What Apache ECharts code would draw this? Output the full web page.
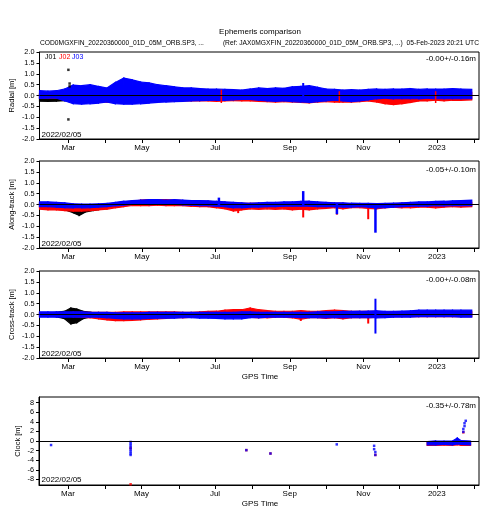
<!DOCTYPE html>
<html><head><meta charset="utf-8">
<script src="https://cdn.jsdelivr.net/npm/echarts@6/dist/echarts.min.js"></script>
<style>html,body{margin:0;padding:0;background:#fff}#c{width:490px;height:520px}</style>
</head><body><div id="c"></div>
<script>
// ---------- data ----------
const weekDates = ['2022-02-05','2022-02-12','2022-02-19','2022-02-26','2022-03-05','2022-03-12','2022-03-19','2022-03-26',
 '2022-04-02','2022-04-09','2022-04-16','2022-04-23','2022-04-30','2022-05-07','2022-05-14','2022-05-21','2022-05-28',
 '2022-06-04','2022-06-11','2022-06-18','2022-06-25','2022-07-02','2022-07-09','2022-07-16','2022-07-23','2022-07-30',
 '2022-08-06','2022-08-13','2022-08-20','2022-08-27','2022-09-03','2022-09-10','2022-09-17','2022-09-24',
 '2022-10-01','2022-10-08','2022-10-15','2022-10-22','2022-10-29','2022-11-05','2022-11-12','2022-11-19','2022-11-26',
 '2022-12-03','2022-12-10','2022-12-17','2022-12-24','2022-12-31','2023-01-07','2023-01-14','2023-01-21','2023-01-30'];

const radialJ03Hi = [0.22,0.2,0.22,0.3, 0.48,0.45,0.5,0.42, 0.35,0.6,0.8,0.72,0.62, 0.58,0.5,0.45,0.4, 0.35,0.35,0.32,0.3, 0.3,0.28,0.27,0.25,0.3, 0.35,0.32,0.35,0.33, 0.4,0.42,0.45,0.38, 0.3,0.28,0.25,0.27,0.25, 0.28,0.3,0.28,0.3, 0.3,0.32,0.28,0.3,0.3, 0.3,0.32,0.3,0.28];
const radialJ03Lo = [-0.13,-0.12,-0.12,-0.25, -0.38,-0.4,-0.38,-0.35, -0.3,-0.38,-0.4,-0.4,-0.38, -0.35,-0.32,-0.3,-0.28, -0.27,-0.25,-0.24,-0.23, -0.22,-0.22,-0.2,-0.18,-0.18, -0.22,-0.25,-0.27,-0.25, -0.28,-0.3,-0.32,-0.28, -0.25,-0.22,-0.25,-0.28,-0.25, -0.2,-0.15,-0.12,-0.15, -0.15,-0.15,-0.15,-0.12,-0.15, -0.15,-0.15,-0.15,-0.15];
const radialJ02Hi = [0.1,0.1,0.1,0.15, 0.25,0.25,0.25,0.25, 0.2,0.35,0.45,0.45,0.4, 0.35,0.3,0.28,0.25, 0.22,0.2,0.2,0.2, 0.2,0.2,0.18,0.18,0.18, 0.2,0.2,0.22,0.2, 0.25,0.25,0.25,0.22, 0.2,0.18,0.18,0.18,0.18, 0.18,0.15,0.12,0.12, 0.12,0.12,0.12,0.15,0.15, 0.15,0.15,0.15,0.15];
const radialJ02Lo = [-0.12,-0.12,-0.12,-0.2, -0.3,-0.3,-0.3,-0.3, -0.3,-0.3,-0.32,-0.3,-0.3, -0.28,-0.28,-0.26,-0.25, -0.25,-0.25,-0.25,-0.25, -0.27,-0.25,-0.24,-0.25,-0.25, -0.27,-0.28,-0.3,-0.28, -0.3,-0.32,-0.34,-0.3, -0.28,-0.3,-0.3,-0.3,-0.28, -0.25,-0.3,-0.38,-0.42, -0.38,-0.32,-0.25,-0.25,-0.22, -0.25,-0.22,-0.22,-0.2];
const radialJ01Dates = ['2022-02-05','2022-02-12','2022-02-19','2022-02-26','2022-03-04'];
const radialJ01Lo = [-0.26,-0.27,-0.26,-0.24,-0.22];
const radialJ01Hi = [0.05,0.05,0.05,0.05,0.05];
const radialJ01Points = [['2022-03-01',1.18],['2022-03-01',-1.1],['2022-03-02',0.55],['2022-03-02',0.42]];
const radialJ03Spikes = [['2022-09-12',0.0,0.53]];
const radialJ02Spikes = [['2022-07-06',-0.3,0.22],['2022-10-12',-0.28,0.15],['2022-12-31',-0.3,0.15]];

const alongJ03Hi = [0.12,0.12,0.1,0.08, 0.03,0.02,0.02,0.03, 0.05,0.1,0.15,0.18,0.2, 0.22,0.22,0.2,0.22, 0.2,0.18,0.18,0.17, 0.15,0.12,0.1,0.08,0.06, 0.08,0.1,0.1,0.12, 0.12,0.14,0.15,0.12, 0.1,0.08,0.08,0.06,0.05, 0.05,0.04,0.05,0.06, 0.08,0.1,0.12,0.12,0.14, 0.15,0.17,0.18,0.2];
const alongJ03Lo = [-0.1,-0.1,-0.12,-0.14, -0.15,-0.15,-0.14,-0.12, -0.1,-0.06,-0.03,0.0,0.0, 0.0,0.02,0.0,0.0, -0.02,-0.03,-0.05,-0.05, -0.08,-0.1,-0.15,-0.15,-0.12, -0.12,-0.1,-0.1,-0.08, -0.08,-0.08,-0.08,-0.1, -0.1,-0.1,-0.12,-0.12,-0.1, -0.12,-0.15,-0.14,-0.12, -0.1,-0.08,-0.08,-0.08,-0.06, -0.06,-0.05,-0.05,-0.05];
const alongJ02Hi = [0.05,0.05,0.05,0.03, 0.0,0.0,0.0,0.0, 0.02,0.05,0.1,0.15,0.2, 0.22,0.22,0.22,0.2, 0.18,0.15,0.15,0.15, 0.12,0.1,0.05,0.05,0.05, 0.05,0.05,0.05,0.05, 0.05,0.08,0.08,0.05, 0.05,0.05,0.05,0.03,0.03, 0.03,0.02,0.02,0.03, 0.05,0.05,0.08,0.08,0.08, 0.1,0.1,0.1,0.1];
const alongJ02Lo = [-0.22,-0.25,-0.25,-0.28, -0.3,-0.3,-0.28,-0.25, -0.22,-0.15,-0.1,-0.05,-0.05, -0.05,-0.03,-0.05,-0.05, -0.05,-0.08,-0.1,-0.1, -0.15,-0.2,-0.3,-0.25,-0.2, -0.22,-0.2,-0.22,-0.2, -0.25,-0.22,-0.25,-0.2, -0.18,-0.15,-0.2,-0.15,-0.15, -0.18,-0.2,-0.15,-0.12, -0.15,-0.15,-0.12,-0.12,-0.15, -0.12,-0.1,-0.12,-0.1];
const alongJ01Dates = ['2022-02-05','2022-02-12','2022-02-19','2022-02-26','2022-03-05','2022-03-10','2022-03-15','2022-03-22','2022-03-28'];
const alongJ01Lo = [-0.12,-0.12,-0.15,-0.25,-0.38,-0.5,-0.35,-0.28,-0.22];
const alongJ01Hi = [0.08,0.08,0.05,0.02,-0.05,-0.1,-0.08,-0.05,-0.05];
const alongJ03Spikes = [['2022-07-04',0.0,0.27],['2022-09-12',0.0,0.57],['2022-10-10',-0.4,0.0],['2022-11-11',-1.25,-0.1]];
const alongJ02Spikes = [['2022-07-20',-0.35,0],['2022-09-12',-0.55,0],['2022-10-10',-0.42,0],['2022-11-05',-0.63,0]];

const crossJ03Hi = [0.12,0.12,0.12,0.12, 0.12,0.12,0.1,0.1, 0.1,0.08,0.08,0.08,0.08, 0.1,0.1,0.1,0.1, 0.1,0.1,0.1,0.1, 0.1,0.1,0.1,0.12,0.12, 0.1,0.1,0.1,0.1, 0.1,0.1,0.1,0.12, 0.12,0.12,0.14,0.14,0.15, 0.16,0.17,0.15,0.15, 0.16,0.17,0.2,0.2,0.2, 0.2,0.2,0.2,0.2];
const crossJ03Lo = [-0.12,-0.12,-0.12,-0.12, -0.12,-0.12,-0.12,-0.12, -0.15,-0.18,-0.2,-0.2,-0.2, -0.18,-0.17,-0.17,-0.17, -0.15,-0.15,-0.17,-0.17, -0.18,-0.2,-0.2,-0.2,-0.15, -0.15,-0.12,-0.12,-0.12, -0.12,-0.14,-0.14,-0.14, -0.15,-0.15,-0.15,-0.15,-0.15, -0.15,-0.15,-0.14,-0.12, -0.12,-0.12,-0.1,-0.1,-0.1, -0.1,-0.1,-0.12,-0.12];
const crossJ02Hi = [0.08,0.08,0.08,0.08, 0.1,0.1,0.1,0.1, 0.1,0.1,0.12,0.12,0.12, 0.12,0.12,0.12,0.12, 0.1,0.1,0.12,0.14, 0.15,0.2,0.22,0.22,0.3, 0.22,0.18,0.15,0.15, 0.15,0.18,0.15,0.15, 0.18,0.2,0.18,0.15,0.15, 0.15,0.15,0.12,0.12, 0.12,0.12,0.12,0.12,0.12, 0.12,0.12,0.12,0.12];
const crossJ02Lo = [-0.08,-0.08,-0.08,-0.08, -0.1,-0.12,-0.15,-0.2, -0.25,-0.28,-0.28,-0.27,-0.25, -0.22,-0.2,-0.18,-0.15, -0.15,-0.12,-0.12,-0.12, -0.12,-0.12,-0.12,-0.12,-0.12, -0.15,-0.15,-0.12,-0.12, -0.15,-0.22,-0.15,-0.15, -0.18,-0.15,-0.2,-0.15,-0.15, -0.15,-0.12,-0.12,-0.1, -0.1,-0.1,-0.1,-0.1,-0.1, -0.1,-0.1,-0.1,-0.1];
const crossJ01Dates = ['2022-02-05','2022-02-12','2022-02-19','2022-02-26','2022-03-03','2022-03-08','2022-03-13','2022-03-20'];
const crossJ01Lo = [-0.08,-0.08,-0.1,-0.2,-0.43,-0.38,-0.2,-0.1];
const crossJ01Hi = [0.08,0.08,0.1,0.15,0.3,0.25,0.15,0.1];
const crossJ03Spikes = [['2022-11-11',-0.83,0.68]];
const crossJ02Spikes = [['2022-11-05',-0.37,0],['2022-09-10',-0.25,0]];

const clockJ03Points = [['2022-02-15',-0.84],['2022-04-22',-0.2],['2022-04-22',-0.6],['2022-04-22',-1.0],['2022-04-22',-1.4],
 ['2022-04-22',-1.8],['2022-04-22',-2.2],['2022-04-22',-2.6],['2022-04-22',-2.9],['2022-07-27',-1.9],['2022-08-16',-2.6],
 ['2022-10-10',-0.7],['2022-11-10',-1.0],['2022-11-10',-1.7],['2022-11-11',-2.3],['2022-11-11',-2.9],
 ['2023-01-23',1.9],['2023-01-23',2.5],['2023-01-24',3.1],['2023-01-24',3.7],['2023-01-25',4.2]];
const clockJ02Points = [['2022-04-22',-9.0],['2022-04-22',-1.5],['2022-07-27',-1.9],['2022-08-16',-2.6],['2022-11-11',-2.9],['2023-01-23',1.8]];
const clockBandDates = ['2022-12-24','2022-12-31','2023-01-07','2023-01-14','2023-01-18','2023-01-21','2023-01-29'];
const clockJ03Lo = [-0.8,-0.8,-0.7,-0.8,-0.6,-0.7,-0.8];
const clockJ03Hi = [-0.1,0,0,0,0.6,0.1,0];
const clockJ02Lo = [-0.9,-0.9,-0.85,-0.9,-0.8,-0.9,-0.9];
const clockJ02Hi = [-0.2,-0.1,-0.1,-0.1,0.3,0,-0.1];

const xMin = '2022-02-05', xMax = '2023-02-05';
const monthTicks = ['2022-03-01','2022-04-01','2022-05-01','2022-06-01','2022-07-01','2022-08-01','2022-09-01','2022-10-01','2022-11-01','2022-12-01','2023-01-01','2023-02-01'];
const monthLabels = ['2022-03-01','2022-05-01','2022-07-01','2022-09-01','2022-11-01','2023-01-01'];
const monthNames = ['2023','Feb','Mar','Apr','May','Jun','Jul','Aug','Sep','Oct','Nov','Dec'];
const clockTicks = [-8,-6,-4,-2,0,2,4,6,8];
const panelNames = ['Radial [m]','Along-track [m]','Cross-track [m]','Clock [m]'];
const panelStats = ['-0.00+/-0.16m','-0.05+/-0.10m','-0.00+/-0.08m','-0.35+/-0.78m'];

// ---------- chart ----------
const FONT = 'Liberation Sans, Arial, Helvetica, sans-serif';
const ts = d => +new Date(d + 'T00:00:00Z');
const BLUE = '#0000ff', RED = '#ff0000', BLACK = '#000000';

function band(xi, dates, lo, hi, color, z) {
  const data = dates.map((d, i) => [ts(d), lo[i], hi[i]]);
  return {
    type: 'custom', xAxisIndex: xi, yAxisIndex: xi, data, z, silent: true, animation: false,
    encode: { x: 0, y: [1, 2] },
    renderItem(params, api) {
      const i = params.dataIndex;
      if (i >= data.length - 1) return null;
      const a = data[i], b = data[i + 1];
      const pts = [api.coord([a[0], a[2]]), api.coord([b[0], b[2]]), api.coord([b[0], b[1]]), api.coord([a[0], a[1]])];
      return { type: 'polygon', shape: { points: pts }, style: { fill: color, stroke: color, lineWidth: 1.2 } };
    }
  };
}
function spikes(xi, arr, color, w, z, zero) {
  const data = arr.map(s => [ts(s[0]), s[1], s[2]]);
  const s = {
    type: 'custom', xAxisIndex: xi, yAxisIndex: xi, data, z, silent: true, animation: false,
    encode: { x: 0, y: [1, 2] },
    renderItem(params, api) {
      const p1 = api.coord([api.value(0), api.value(2)]);
      const p2 = api.coord([api.value(0), api.value(1)]);
      return { type: 'rect', shape: { x: p1[0] - w / 2, y: p1[1] - 1, width: w, height: p2[1] - p1[1] + 2 }, style: { fill: color } };
    }
  };
  if (zero) s.markLine = zeroLine();
  return s;
}
function points(xi, arr, color, size, z, zero) {
  const s = {
    type: 'scatter', xAxisIndex: xi, yAxisIndex: xi, z, silent: true, animation: false,
    symbol: 'rect', symbolSize: size, itemStyle: { color },
    data: arr.map(p => [ts(p[0]), p[1]])
  };
  if (zero) s.markLine = zeroLine();
  return s;
}
function zeroLine() {
  return { silent: true, symbol: 'none', animation: false, label: { show: false },
    lineStyle: { color: '#000', width: 1, type: 'solid' }, data: [{ yAxis: 0 }] };
}

const grids = [
  { left: 39, width: 440, top: 52, height: 87 },
  { left: 39, width: 440, top: 161, height: 87 },
  { left: 39, width: 440, top: 271, height: 87 },
  { left: 39, width: 440, top: 397, height: 88 }
].map(g => Object.assign(g, { show: true, borderColor: '#000', borderWidth: 1, backgroundColor: 'transparent' }));

const xAxes = grids.map((g, i) => ({
  type: 'value', gridIndex: i, min: ts(xMin), max: ts(xMax), scale: true,
  axisLine: { show: true, onZero: false, lineStyle: { color: '#000', width: 1 } },
  axisTick: { show: true, length: 4, inside: false, customValues: monthTicks.map(ts), lineStyle: { color: '#000' } },
  axisLabel: { show: true, customValues: monthLabels.map(ts), fontSize: 8, fontFamily: FONT, color: '#000', margin: 5,
    formatter: v => monthNames[new Date(v).getUTCMonth()] },
  splitLine: { show: false }, minorTick: { show: false }
}));

const yAxes = grids.map((g, i) => {
  const clock = i === 3;
  const ax = {
    type: 'value', gridIndex: i,
    name: panelNames[i], nameLocation: 'middle', nameGap: clock ? 17 : 23.5, nameRotate: 90,
    nameMoveOverlap: false,
    nameTextStyle: { fontSize: 7.5, fontFamily: FONT, color: '#000' },
    axisLine: { show: true, onZero: false, lineStyle: { color: '#000' } },
    axisTick: { show: true, length: 3, inside: false, lineStyle: { color: '#000' } },
    axisLabel: { fontSize: 7.3, fontFamily: FONT, color: '#000', margin: 5 },
    splitLine: { show: false }
  };
  if (clock) {
    ax.min = -9.15; ax.max = 9.15;
    ax.axisTick.customValues = clockTicks;
    ax.axisLabel.customValues = clockTicks;
    ax.axisLabel.formatter = v => String(v);
  } else {
    ax.min = -2; ax.max = 2; ax.interval = 0.5;
    ax.axisLabel.formatter = v => v.toFixed(1);
  }
  return ax;
});

const series = [
  band(0, radialJ01Dates, radialJ01Lo, radialJ01Hi, BLACK, 1),
  band(0, weekDates, radialJ02Lo, radialJ02Hi, RED, 2),
  band(0, weekDates, radialJ03Lo, radialJ03Hi, BLUE, 3),
  points(0, radialJ01Points, BLACK, 2.5, 4),
  spikes(0, radialJ02Spikes, RED, 1.5, 4),
  spikes(0, radialJ03Spikes, BLUE, 2, 5, true),
  band(1, alongJ01Dates, alongJ01Lo, alongJ01Hi, BLACK, 1),
  band(1, weekDates, alongJ02Lo, alongJ02Hi, RED, 2),
  spikes(1, alongJ02Spikes, RED, 2, 2),
  band(1, weekDates, alongJ03Lo, alongJ03Hi, BLUE, 3),
  spikes(1, alongJ03Spikes, BLUE, 2.5, 5, true),
  band(2, crossJ01Dates, crossJ01Lo, crossJ01Hi, BLACK, 1),
  band(2, weekDates, crossJ02Lo, crossJ02Hi, RED, 2),
  spikes(2, crossJ02Spikes, RED, 2, 2),
  band(2, weekDates, crossJ03Lo, crossJ03Hi, BLUE, 3),
  spikes(2, crossJ03Spikes, BLUE, 2, 5, true),
  band(3, clockBandDates, clockJ02Lo, clockJ02Hi, RED, 2),
  band(3, clockBandDates, clockJ03Lo, clockJ03Hi, BLUE, 3),
  points(3, clockJ02Points, RED, 2.5, 3),
  points(3, clockJ03Points, BLUE, 2.5, 4, true)
];

const txt = (x, y, text, opts) => ({ type: 'text', x, y, silent: true, z: 100,
  style: Object.assign({ text, font: '8px ' + FONT, fill: '#000', align: 'left', verticalAlign: 'middle' }, opts || {}) });

const graphic = [
  txt(260, 32, 'Ephemeris comparison', { align: 'center' }),
  txt(40, 43.5, 'COD0MGXFIN_20220360000_01D_05M_ORB.SP3, ...', { font: '6.7px ' + FONT }),
  txt(479, 43.5, '(Ref: JAX0MGXFIN_20220360000_01D_05M_ORB.SP3, ...)  05-Feb-2023 20:21 UTC', { font: '6.7px ' + FONT, align: 'right' }),
  txt(45, 57.5, 'J01', { font: '7px ' + FONT, fill: BLACK }),
  txt(59, 57.5, 'J02', { font: '7px ' + FONT, fill: RED }),
  txt(72, 57.5, 'J03', { font: '7px ' + FONT, fill: BLUE }),
  txt(260, 377, 'GPS Time', { align: 'center' }),
  txt(260, 503.5, 'GPS Time', { align: 'center' })
];
const statY = [59, 169.5, 279.5, 406];
const dateY = [134.5, 243.5, 353.5, 480];
for (let i = 0; i < 4; i++) {
  graphic.push(txt(476, statY[i], panelStats[i], { align: 'right' }));
  graphic.push(txt(41.5, dateY[i], '2022/02/05', {}));
}

const chart = echarts.init(document.getElementById('c'), null, { renderer: 'canvas' });
chart.setOption({
  animation: false, backgroundColor: '#fff',
  grid: grids, xAxis: xAxes, yAxis: yAxes, series, graphic
});
</script></body></html>
